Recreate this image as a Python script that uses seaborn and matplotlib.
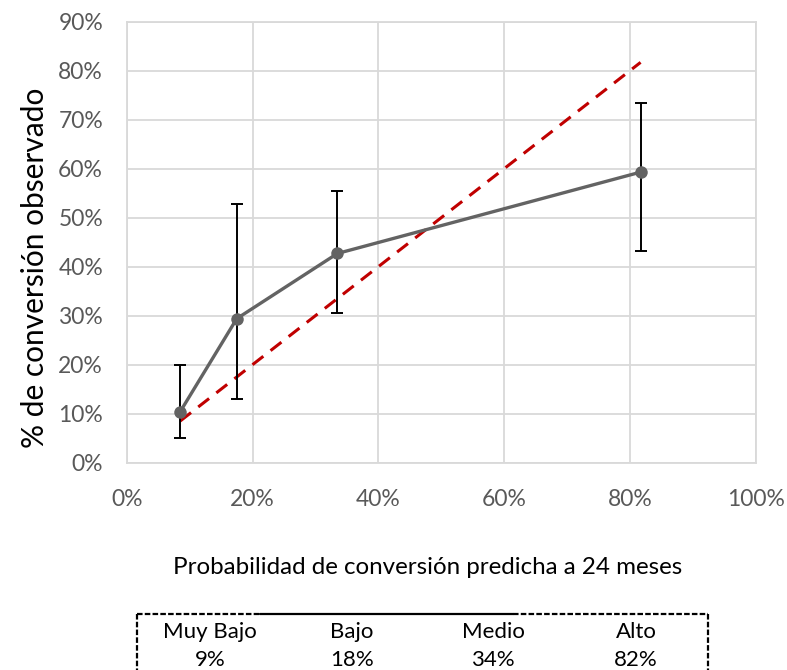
import matplotlib
matplotlib.use("Agg")
import matplotlib.pyplot as plt
from matplotlib.lines import Line2D
import seaborn as sns
import pandas as pd

# Calibration data: predicted vs observed conversion per risk group
groups = ["Muy Bajo", "Bajo", "Medio", "Alto"]
predicted = [8.5, 17.5, 33.5, 81.7]          # % predicted probability
observed = [10.4, 29.4, 42.7, 59.3]          # % observed conversion
ci_low = [5.0, 13.0, 30.5, 43.2]             # lower CI bound (%)
ci_high = [19.9, 52.8, 55.5, 73.4]           # upper CI bound (%)
group_labels = ["9%", "18%", "34%", "82%"]

x_ticks = [0, 20, 40, 60, 80, 100]
y_ticks = [0, 10, 20, 30, 40, 50, 60, 70, 80, 90]

sns.set_theme(style="white")
plt.rcParams["font.family"] = ["Lato", "DejaVu Sans"]

W, H = 787, 670
fig = plt.figure(figsize=(W / 100, H / 100), dpi=100)
ax = fig.add_axes([126.7 / W, 1 - 462.7 / H, 629 / W, 441 / H])

df = pd.DataFrame({"pred": predicted, "obs": observed})
diag = pd.DataFrame({"x": [predicted[0], predicted[-1]], "y": [predicted[0], predicted[-1]]})

# perfect-calibration reference line
sns.lineplot(data=diag, x="x", y="y", ax=ax, color="#C00000", linewidth=2.2,
             dashes=False, zorder=3)
ax.lines[-1].set_dashes([4.5, 3])

# error bars for the observed rates
yerr = [[o - l for o, l in zip(observed, ci_low)], [h - o for o, h in zip(observed, ci_high)]]
ax.errorbar(predicted, observed, yerr=yerr, fmt="none", ecolor="black",
            elinewidth=1.4, capsize=4.5, capthick=1.4, zorder=4)

# observed calibration curve
sns.lineplot(data=df, x="pred", y="obs", ax=ax, color="#636363", linewidth=2.4,
             marker="o", markersize=9, markeredgewidth=0, zorder=5)

ax.set_xlim(0, 100)
ax.set_ylim(0, 90)
ax.set_xticks(x_ticks)
ax.set_yticks(y_ticks)
ax.set_xticklabels([f"{t}%" for t in x_ticks])
ax.set_yticklabels([f"{t}%" for t in y_ticks])
ax.tick_params(axis="both", length=0, labelsize=16.5, labelcolor="#595959")
ax.tick_params(axis="y", pad=17)
ax.tick_params(axis="x", pad=19)
ax.grid(True, color="#D9D9D9", linewidth=1.3)
for sp in ax.spines.values():
    sp.set_color("#D9D9D9")
    sp.set_linewidth(1.3)
ax.set_xlabel("")
ax.set_ylabel("")

fig.text(35 / W, 1 - 268 / H, "% de conversión observado", rotation=90,
         ha="center", va="center", fontsize=21.5, color="black")
fig.text(427.5 / W, 1 - 567 / H, "Probabilidad de conversión predicha a 24 meses",
         ha="center", va="center", fontsize=17.4, color="black")

# group legend box below the chart
xs = [210, 352, 493, 636]
for g, lab, xc in zip(groups, group_labels, xs):
    fig.text(xc / W, 1 - 632 / H, g, ha="center", va="center", fontsize=16, color="black")
    fig.text(xc / W, 1 - 660 / H, lab, ha="center", va="center", fontsize=16, color="black")

def fx(p):
    return p / W

def fy(p):
    return 1 - p / H

box_kw = dict(color="black", linewidth=1.6, transform=fig.transFigure)
fig.add_artist(Line2D([fx(137), fx(260)], [fy(614), fy(614)], linestyle=(0, (2.5, 1)), **box_kw))
fig.add_artist(Line2D([fx(260), fx(513)], [fy(614), fy(614)], linestyle="-", **box_kw))
fig.add_artist(Line2D([fx(513), fx(708)], [fy(614), fy(614)], linestyle=(0, (2.5, 1)), **box_kw))
fig.add_artist(Line2D([fx(137), fx(137)], [fy(614), fy(675)], linestyle=(0, (2.5, 1)), **box_kw))
fig.add_artist(Line2D([fx(708), fx(708)], [fy(614), fy(675)], linestyle=(0, (2.5, 1)), **box_kw))

fig.savefig("out.png", dpi=100)
